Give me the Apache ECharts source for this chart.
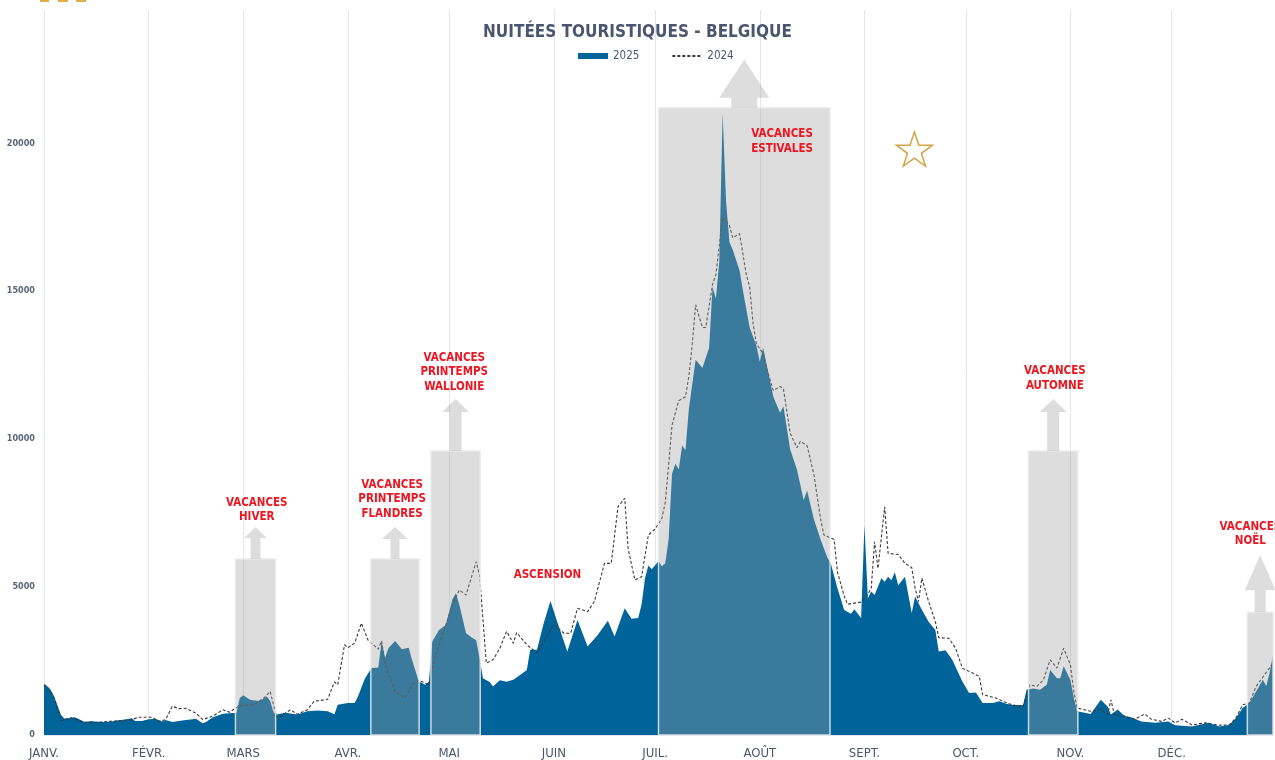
<!DOCTYPE html>
<html>
<head>
<meta charset="utf-8">
<title>Nuitées touristiques - Belgique</title>
<script src="https://cdn.jsdelivr.net/npm/echarts@6/dist/echarts.min.js"></script>
<style>
  html, body { margin: 0; padding: 0; background: #fff; }
  #chart { width: 1275px; height: 760px; }
</style>
</head>
<body>
<div id="chart"></div>
<script>
// jour de l'année (0 = 1er janvier) -> nuitées
const nuitees2025 = [
  [0,1720],[1,1650],[2,1530],[3,1300],[4,1000],[5,685],[6,560],[7,570],[9,600],[10,560],[12,440],[14,470],[15,460],[18,440],[20,460],[22,500],[24,520],[26,570],[27,470],[29,470],
  [31,530],[33,550],[35,460],[36,510],[38,440],[40,470],[42,510],[44,530],[45,550],[47,400],[48,440],[50,600],[53,720],[56,740],[57,750],
  [58,1250],[59,1340],[61,1190],[63,1160],[64,1150],[66,1300],[67,1150],[68,760],[69,690],[71,740],[72,740],[75,690],[78,800],[81,830],[84,800],[86,700],[87,1020],
  [90,1080],[92,1080],[93,1300],[95,1900],[97,2260],[99,2280],[100,3160],[101,2600],[102,2930],[104,3180],[106,2900],[108,2950],[109,2540],[111,1810],[113,1700],[114,1810],[115,3160],[117,3550],[119,3720],
  [121,4600],[122,4790],[123,4400],[125,3440],[127,3270],[128,3200],[129,2600],[130,1920],[132,1790],[133,1640],[135,1850],[137,1800],[139,1870],[141,2030],[143,2200],[144,2880],[146,2880],[148,3780],[150,4530],
  [152,3830],[155,2820],[158,3890],[161,2990],[164,3380],[167,3860],[169,3330],[172,4280],[174,3930],[176,3950],[177,4420],[178,5300],[179,5730],[180,5600],
  [182,5870],[183,5700],[184,5800],[185,6610],[186,8820],[187,9170],[188,8970],[189,9780],[190,9620],[191,11030],[193,12680],[195,12400],[197,13090],[198,15150],[199,14740],[200,15990],[201,21000],[202,18050],[203,16660],[204,16390],[206,15700],[207,15020],[209,13770],[211,13150],
  [212,12610],[213,13090],[215,11990],[216,11430],[218,10890],[219,11100],[221,9650],[223,8970],[225,7930],[226,8260],[228,7300],[230,6610],[232,6000],[233,5800],[235,4960],[237,4220],[239,4100],[240,4250],[242,3950],
  [243,7100],[244,4620],[245,4850],[246,4730],[248,5300],[249,5180],[250,5350],[251,5230],[252,5500],[253,5060],[255,5350],[257,4120],[258,4680],[260,4230],[262,3830],[264,3550],[265,2820],[267,2860],[269,2540],[272,1810],
  [274,1420],[276,1440],[278,1080],[281,1080],[283,1140],[285,1060],[287,1010],[290,1010],[291,1530],[293,1570],[295,1530],[297,1700],[298,2200],[300,1920],[301,1920],[302,2320],
  [304,1860],[305,1250],[306,800],[310,710],[313,1190],[315,960],[316,690],[318,860],[320,640],[322,600],[325,460],[329,410],[333,460],
  [335,330],[340,290],[345,410],[348,290],[351,340],[353,570],[355,910],[357,1080],[359,1470],[361,1870],[362,1650],[363,2100],[364,2700]
];

const nuitees2024 = [
  [0,1700],[3,1250],[5,480],[8,580],[11,460],[14,400],[19,460],[23,480],[26,520],[28,600],
  [32,600],[34,460],[36,520],[38,970],[40,890],[42,900],[45,740],[47,520],[50,640],[53,850],[55,770],[57,930],
  [59,1010],[62,1010],[65,1240],[67,1470],[68,1010],[69,570],[73,850],[75,700],[78,850],[80,1140],[84,1200],[86,1790],[87,1700],[89,3050],
  [90,2950],[92,3100],[94,3780],[96,3200],[99,2900],[100,3180],[101,2370],[104,1470],[107,1250],[109,1700],[111,1850],[114,1700],[116,2710],[119,3720],
  [121,4400],[123,4900],[125,4730],[128,5860],[129,5400],[131,2430],[133,2540],[135,2930],[137,3500],[139,3100],[140,3460],[143,3050],[146,2770],[148,3160],
  [151,3720],[154,3440],[156,3440],[158,4280],[161,4170],[163,4510],[166,5800],[168,5800],[170,7710],[172,8000],[173,6300],[175,5240],[177,5350],[179,6760],
  [181,6960],[183,7320],[184,7860],[185,9110],[186,10470],[188,11300],[190,11430],[191,12120],[192,13220],[193,14540],[195,13770],[196,13770],[198,15220],[199,15560],[201,17500],[203,17220],[204,16800],[206,16940],[207,16260],[208,15560],[209,15150],[210,13910],[211,13220],
  [213,12880],[214,12400],[216,11640],[218,11780],[219,11700],[221,10200],[223,9710],[224,9920],[226,9780],[228,8820],[230,7300],[231,6760],[234,6610],[235,5510],[237,4690],[238,4420],[242,4490],
  [244,4750],[245,4960],[246,6530],[247,5630],[249,7710],[250,6140],[253,6100],[255,5800],[257,5660],[258,4960],[259,4510],[260,5300],[262,4510],[264,3830],[265,3290],[268,3270],[270,2930],[272,2260],
  [274,2150],[277,1980],[278,1360],[282,1250],[284,1140],[287,1010],[290,960],[292,1700],[294,1640],[296,1860],[298,2540],[300,2260],[302,2930],
  [304,2370],[305,1470],[306,910],[310,800],[313,860],[315,690],[316,1190],[317,690],[320,640],[323,530],[326,710],[328,530],[331,460],[333,570],
  [335,410],[337,530],[340,340],[344,410],[348,330],[351,340],[353,570],[355,1020],[357,1080],[359,1640],[364,2430]
];

const moisDebut = [0, 31, 59, 90, 120, 151, 181, 212, 243, 273, 304, 334];
const moisLabels = ['JANV.', 'FÉVR.', 'MARS', 'AVR.', 'MAI', 'JUIN', 'JUIL.', 'AOÛT', 'SEPT.', 'OCT.', 'NOV.', 'DÉC.'];

// périodes de vacances : début, fin (jour), hauteur du cadre (nuitées)
const vacancesDebut = [56.7, 96.8, 114.6, 182, 291.6, 356.4];
const vacancesFin = [68.6, 111.1, 129.2, 232.8, 306.2, 364];
const vacancesHaut = [5950, 5950, 9600, 21200, 9600, 4150];

const FONT = 'DejaVu Sans Condensed, DejaVu Sans, sans-serif';
const RED = '#ec1520';
const BOX = 'rgba(161,161,161,0.36)';

// flèches (pixels) : largeur tête, largeur tige, hauteur tête, hauteur totale
const fleches = [
  [23, 10, 11, 32],
  [26, 9, 12, 32],
  [27, 12, 13, 52],
  [50, 26, 38, 48],
  [27, 12, 13, 52],
  [31, 11, 35, 57]
];

// libellés rouges : texte, ancrage [jour, nuitées]
const notes = [
  ['VACANCES\nHIVER', 63, 7600],
  ['VACANCES\nPRINTEMPS\nFLANDRES', 103.1, 7970],
  ['VACANCES\nPRINTEMPS\nWALLONIE', 121.5, 12250],
  ['ASCENSION', 149.1, 5400],
  ['VACANCES\nESTIVALES', 218.6, 20060],
  ['VACANCES\nAUTOMNE', 299.4, 12050],
  ['VACANCES\nNOËL', 357.3, 6790]
];

function arrowPath(hw, sw, hh, h) {
  const a = (hw - sw) / 2, b = (hw + sw) / 2;
  return 'path://M' + hw / 2 + ',0L' + hw + ',' + hh + 'L' + b + ',' + hh + 'L' + b + ',' + h +
    'L' + a + ',' + h + 'L' + a + ',' + hh + 'L0,' + hh + 'Z';
}

const starPath = 'path://M50,0L61.8,35.1L98.1,35.1L68.7,56.8L79.4,91L50,70L20.6,91L31.3,56.8L1.9,35.1L38.2,35.1Z';

const boxAreas = vacancesDebut.map((d, i) => [
  { xAxis: d, yAxis: 0 },
  { xAxis: vacancesFin[i], yAxis: vacancesHaut[i] }
]);

const arrowPoints = fleches.map((f, i) => ({
  coord: [(vacancesDebut[i] + vacancesFin[i]) / 2, vacancesHaut[i]],
  symbol: arrowPath(f[0], f[1], f[2], f[3]),
  symbolSize: [f[0], f[3]],
  symbolOffset: [0, -f[3] / 2],
  itemStyle: { color: BOX },
  label: { show: false }
}));

const notePoints = notes.map((n) => ({
  coord: [n[1], n[2]],
  symbol: 'rect',
  symbolSize: 1,
  itemStyle: { color: 'rgba(0,0,0,0)' },
  label: {
    show: true,
    position: 'inside',
    formatter: n[0],
    color: RED,
    fontFamily: FONT,
    fontWeight: 'bold',
    fontSize: 11.5,
    lineHeight: 14.5,
    align: 'center'
  }
}));

const chart = echarts.init(document.getElementById('chart'), null, { renderer: 'canvas' });

chart.setOption({
  animation: false,
  backgroundColor: '#fff',
  title: {
    text: 'NUITÉES TOURISTIQUES - BELGIQUE',
    left: 'center',
    top: 19,
    textStyle: { fontFamily: FONT, fontSize: 17, fontWeight: 'bold', color: '#4a5670' }
  },
  legend: {
    left: 573,
    top: 45,
    itemWidth: 30,
    itemHeight: 6,
    itemGap: 32,
    textStyle: { fontFamily: FONT, fontSize: 11.5, color: '#4a5670' },
    data: [
      { name: '2025', icon: 'rect' },
      { name: '2024', itemStyle: { color: 'rgba(0,0,0,0)', borderColor: 'rgba(0,0,0,0)', borderWidth: 0 } }
    ]
  },
  grid: { left: 44, right: 2, top: 10, bottom: 23, containLabel: false },
  xAxis: {
    type: 'value',
    min: 0,
    max: 364,
    axisLine: { show: true, lineStyle: { color: '#dfe4ea' } },
    axisTick: { show: false, customValues: moisDebut },
    axisLabel: {
      customValues: moisDebut,
      formatter: (v) => moisLabels[moisDebut.indexOf(v)],
      fontFamily: FONT,
      fontSize: 13,
      color: '#4a566c',
      margin: 12
    },
    splitLine: { show: true, lineStyle: { color: '#e3e7ec', width: 1 } }
  },
  yAxis: {
    type: 'value',
    min: 0,
    max: 24500,
    interval: 5000,
    axisLine: { show: false },
    axisTick: { show: false },
    splitLine: { show: false },
    axisLabel: {
      showMaxLabel: false,
      formatter: (v) => (v % 5000 === 0 ? String(v) : ''),
      fontFamily: FONT,
      fontSize: 9,
      fontWeight: 'bold',
      color: '#5a6478',
      margin: 9
    }
  },
  series: [
    {
      name: '2025',
      type: 'line',
      data: nuitees2025,
      symbol: 'none',
      z: 2,
      itemStyle: { color: '#00649a' },
      lineStyle: { width: 0, color: '#00649a' },
      areaStyle: { color: '#00649a', opacity: 1 }
    },
    {
      name: '2024',
      type: 'line',
      data: nuitees2024,
      symbol: 'none',
      z: 3,
      itemStyle: { color: '#3a3a3a' },
      lineStyle: { width: 1.1, color: '#3a3a3a', type: [3, 2] }
    },
    {
      name: 'vacances',
      type: 'line',
      data: [],
      z: 5,
      silent: true,
      markArea: {
        silent: true,
        z: 10,
        itemStyle: { color: BOX, borderColor: 'rgba(235,235,235,0.85)', borderWidth: 1.5 },
        data: boxAreas
      },
      markPoint: {
        silent: true,
        z: 11,
        data: arrowPoints.concat(notePoints).concat([{
          coord: [257.8, 19800],
          symbol: starPath,
          symbolSize: [36, 34],
          itemStyle: { color: 'rgba(0,0,0,0)', borderColor: '#d4a548', borderWidth: 1.5 },
          label: { show: false }
        }])
      }
    }
  ],
  graphic: [
    { type: 'rect', shape: { x: 40, y: -6, width: 9, height: 8 }, style: { fill: '#dcae45' } },
    { type: 'rect', shape: { x: 58, y: -6, width: 10, height: 8 }, style: { fill: '#dcae45' } },
    { type: 'rect', shape: { x: 76, y: -6, width: 10, height: 8 }, style: { fill: '#dcae45' } }
  ]
});
</script>
</body>
</html>
